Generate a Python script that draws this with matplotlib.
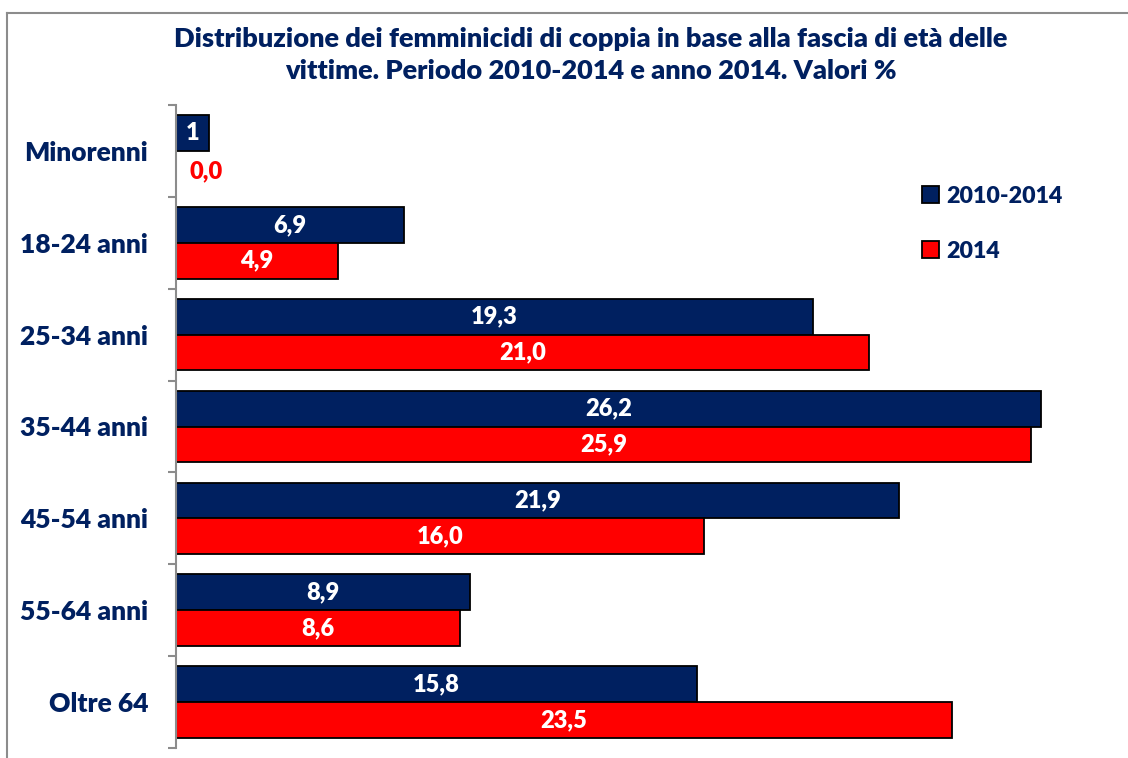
import matplotlib.pyplot as plt
from matplotlib.lines import Line2D

categories = ["Minorenni", "18-24 anni", "25-34 anni", "35-44 anni",
              "45-54 anni", "55-64 anni", "Oltre 64"]
serie_2010_2014 = [1, 6.9, 19.3, 26.2, 21.9, 8.9, 15.8]
serie_2014 = [0.0, 4.9, 21.0, 25.9, 16.0, 8.6, 23.5]
series_names = ["2010-2014", "2014"]

NAVY = "#002060"
RED = "#FF0000"
W = 'heavy'

plt.rcParams['font.family'] = ['Lato', 'DejaVu Sans']

fig = plt.figure(figsize=(11.28, 7.58), dpi=100)
ax = fig.add_axes([176 / 1128, 10 / 758, 924 / 1128, 643 / 758])

# frame of the chart area
fig.add_artist(Line2D([7 / 1128, 1.0], [1 - 13 / 758, 1 - 13 / 758],
                      transform=fig.transFigure, color="#8c8c8c", lw=1.5))
fig.add_artist(Line2D([7 / 1128, 7 / 1128], [0, 1 - 13 / 758],
                      transform=fig.transFigure, color="#8c8c8c", lw=1.5))

h = 0.39
pos = range(len(categories))
b1 = ax.barh([p - h / 2 for p in pos], serie_2010_2014, height=h,
             color=NAVY, edgecolor="black", linewidth=1.3, label=series_names[0])
b2 = ax.barh([p + h / 2 for p in pos], serie_2014, height=h,
             color=RED, edgecolor="black", linewidth=1.3, label=series_names[1])


def fmt(v):
    return str(v).replace('.', ',')


for bars, vals in ((b1, serie_2010_2014), (b2, serie_2014)):
    for bar, v in zip(bars, vals):
        y = bar.get_y() + bar.get_height() / 2
        if v == 0:
            ax.text(0.4, y + 0.03, fmt(v), ha='left', va='center', color=RED,
                    fontsize=17, fontweight=W)
        else:
            ax.text(v / 2, y, fmt(v), ha='center', va='center', color='white',
                    fontsize=17, fontweight=W)

ax.set_xlim(0, 28)
ax.set_ylim(len(categories) - 0.5, -0.5)
ax.set_yticks(list(pos))
ax.set_yticklabels(categories, fontsize=19, fontweight=W, color=NAVY)
ax.set_yticks([p - 0.5 for p in range(len(categories) + 1)], minor=True)
ax.tick_params(axis='y', which='major', length=0, pad=20)
ax.tick_params(axis='y', which='minor', length=6, width=1.5, color="#8c8c8c")
ax.set_xticks([])
for s in ('top', 'right', 'bottom'):
    ax.spines[s].set_visible(False)
ax.spines['left'].set_color("#8c8c8c")
ax.spines['left'].set_linewidth(1.5)

fig.text(591 / 1128, 1 - 55 / 758,
         "Distribuzione dei femminicidi di coppia in base alla fascia di età delle\n"
         "vittime. Periodo 2010-2014 e anno 2014. Valori %",
         ha='center', va='center', fontsize=19.5, fontweight=W, color=NAVY,
         linespacing=1.42)

leg = fig.legend(handles=[b1, b2], loc='upper left',
                 bbox_to_anchor=(901 / 1128, 1 - 165 / 758),
                 frameon=False, handlelength=0.75, handleheight=0.75,
                 handletextpad=0.3, labelspacing=1.45,
                 prop={'size': 16.7, 'weight': W})
for t in leg.get_texts():
    t.set_color(NAVY)

fig.savefig("out.png", dpi=100)
